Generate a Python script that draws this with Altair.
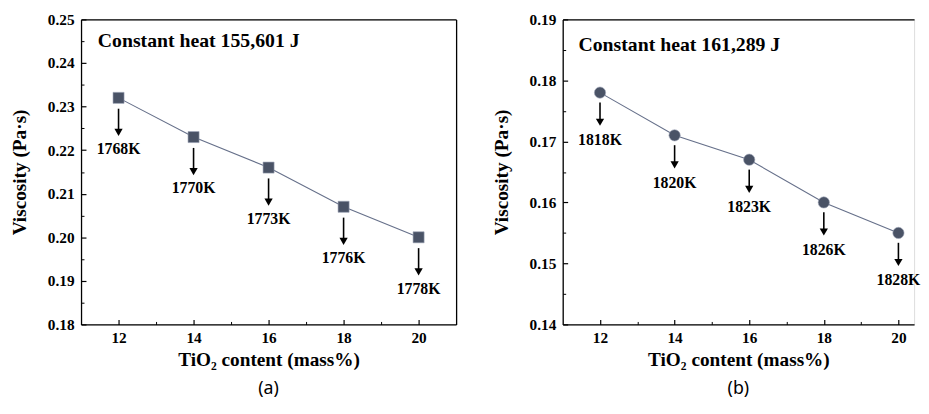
import altair as alt
import pandas as pd

# ---- data ----
tio2 = [12, 14, 16, 18, 20]

visc_a = [0.232, 0.223, 0.216, 0.207, 0.200]
temp_a = ["1768K", "1770K", "1773K", "1776K", "1778K"]

visc_b = [0.178, 0.171, 0.167, 0.160, 0.155]
temp_b = ["1818K", "1820K", "1823K", "1826K", "1828K"]

x_major = [12, 14, 16, 18, 20]
x_minor = [13, 15, 17, 19]

y_major_a = [0.18, 0.19, 0.20, 0.21, 0.22, 0.23, 0.24, 0.25]
y_minor_a = [0.185, 0.195, 0.205, 0.215, 0.225, 0.235, 0.245]
y_major_b = [0.14, 0.15, 0.16, 0.17, 0.18, 0.19]
y_minor_b = [0.145, 0.155, 0.165, 0.175, 0.185]

SERIF = "Liberation Serif"
MARK_COLOR = "#4a5366"
LINE_COLOR = "#66708a"


def frame_axis(orient):
    return alt.Axis(orient=orient, labels=False, ticks=False, title=None,
                    grid=False, domain=True, domainColor="black",
                    domainWidth=1.3, offset=0)


def panel(visc, temps, xdom, ydom, ymaj, ymin, shape, msize, note, note_xy,
          caption, offs, width, right_frame):
    df = pd.DataFrame({"x": tio2, "v": visc, "t": temps})
    base = alt.Chart(df)
    xs = alt.Scale(domain=xdom, nice=False, zero=False)
    ys = alt.Scale(domain=ydom, nice=False, zero=False)

    x_main = alt.Axis(values=x_major, format="d", title="TiO₂ content (mass%)",
                      orient="bottom",
                      grid=False, domain=False, tickSize=5, offset=-5,
                      tickColor="black", tickWidth=1.2, labelPadding=6,
                      labelFont=SERIF, labelFontSize=15.5, labelFontWeight="bold",
                      labelColor="black", titleFont=SERIF, titleFontSize=19.5,
                      titleFontWeight="bold", titleColor="black", titlePadding=5)
    y_main = alt.Axis(values=ymaj, format=".2f", title="Viscosity (Pa·s)",
                      orient="left",
                      grid=False, domain=False, tickSize=5, offset=-5,
                      tickColor="black", tickWidth=1.2, labelPadding=7,
                      labelFont=SERIF, labelFontSize=15.5, labelFontWeight="bold",
                      labelColor="black", titleFont=SERIF, titleFontSize=19.5,
                      titleFontWeight="bold", titleColor="black", titlePadding=18)
    x_min_ax = alt.Axis(values=x_minor, orient="bottom", labels=False, title=None,
                        grid=False, domain=False, tickSize=3, offset=-3,
                        tickColor="black", tickWidth=1)
    y_min_ax = alt.Axis(values=ymin, orient="left", labels=False, title=None,
                        grid=False, domain=False, tickSize=3, offset=-3,
                        tickColor="black", tickWidth=1)

    X = lambda: alt.X("x:Q", scale=xs, axis=None)
    Y = lambda: alt.Y("v:Q", scale=ys, axis=None)

    line = base.mark_line(color=LINE_COLOR, strokeWidth=1.1).encode(
        x=alt.X("x:Q", scale=xs, axis=x_main),
        y=alt.Y("v:Q", scale=ys, axis=y_main),
    )
    minor = base.mark_line(opacity=0).encode(
        x=alt.X("x:Q", scale=xs, axis=x_min_ax),
        y=alt.Y("v:Q", scale=ys, axis=y_min_ax),
    )
    frame1 = base.mark_line(opacity=0).encode(
        x=alt.X("x:Q", scale=xs, axis=frame_axis("bottom")),
        y=alt.Y("v:Q", scale=ys, axis=frame_axis("left")),
    )
    frame2 = base.mark_line(opacity=0).encode(
        x=alt.X("x:Q", scale=xs, axis=frame_axis("top")),
        y=alt.Y("v:Q", scale=ys,
                axis=frame_axis("right") if right_frame else None),
    )
    pts = base.mark_point(shape=shape, filled=True, size=msize, opacity=1,
                          color=MARK_COLOR, stroke="#9aa2b4", strokeWidth=0.6).encode(
        x=X(), y=Y())
    s0, s1, tip, lab = offs
    arrow = base.mark_rule(color="black", strokeWidth=1.6, yOffset=s0,
                           y2Offset=s1).encode(x=X(), y=Y(), y2="v:Q")
    head = base.mark_point(shape="triangle-down", filled=True, size=70,
                           color="black", opacity=1, yOffset=tip).encode(
        x=X(), y=Y())
    labels = base.mark_text(font=SERIF, fontSize=16, fontWeight="bold",
                            color="black", dy=lab, baseline="middle").encode(
        x=X(), y=Y(), text="t:N")
    note_df = pd.DataFrame({"n": [note]})
    note_t = alt.Chart(note_df).mark_text(
        font=SERIF, fontSize=20, fontWeight="bold", color="black",
        align="left", baseline="middle").encode(
        x=alt.value(note_xy[0]), y=alt.value(note_xy[1]), text="n:N")

    return alt.layer(line, minor, frame1, frame2, arrow, head, pts, labels,
                     note_t).resolve_axis(
        x="independent", y="independent"
    ).properties(
        width=width, height=309,
        title=alt.TitleParams(caption, orient="bottom", font="Noto Sans",
                              fontSize=18, fontWeight="normal", color="black",
                              offset=11),
    )


pa = panel(visc_a, temp_a, [11, 21], [0.18, 0.25], y_major_a, y_minor_a,
           "square", 125, "Constant heat 155,601 J", (17, 22), "(a)",
           (11, 33, 35, 52), 380, True)
pb = panel(visc_b, temp_b, [11, 20.42], [0.14, 0.19], y_major_b, y_minor_b,
           "circle", 130, "Constant heat 161,289 J", (16, 26), "(b)",
           (10, 28, 30, 48), 356, False)

chart = alt.hconcat(pa, pb, spacing=34).properties(
    padding={"left": 1, "top": 1, "right": 0, "bottom": 0}
).configure_view(stroke=None).configure(background="white")

chart.save("out.html", embed_options={"renderer": "svg", "actions": False})
